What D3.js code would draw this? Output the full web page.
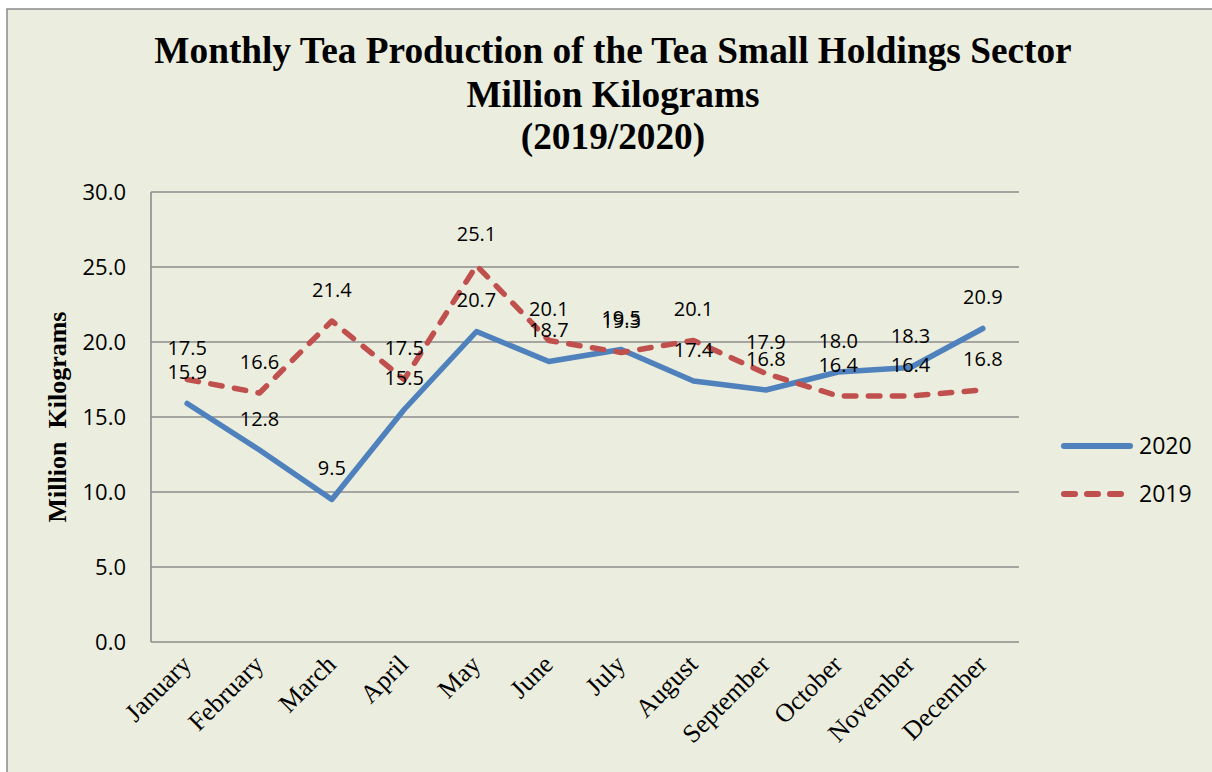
<!DOCTYPE html>
<html>
<head>
<meta charset="utf-8">
<script src="https://cdn.jsdelivr.net/npm/d3@7"></script>
<style>
  html, body { margin: 0; padding: 0; background: #ffffff; }
  svg { display: block; }
</style>
</head>
<body>
<svg id="chart" width="1212" height="772"></svg>
<script>
// ---- data ----
const months = ["January","February","March","April","May","June","July","August","September","October","November","December"];
const values2020 = [15.9, 12.8, 9.5, 15.5, 20.7, 18.7, 19.5, 17.4, 16.8, 18.0, 18.3, 20.9];
const values2019 = [17.5, 16.6, 21.4, 17.5, 25.1, 20.1, 19.3, 20.1, 17.9, 16.4, 16.4, 16.8];
const seriesNames = ["2020", "2019"];
const yTicks = [0, 5, 10, 15, 20, 25, 30];
const titleLines = ["Monthly Tea Production of the Tea Small Holdings Sector", "Million Kilograms", "(2019/2020)"];
const yAxisTitle = "Million\u00a0\u00a0Kilograms";

// ---- layout ----
const svg = d3.select("#chart");
const W = 1212, H = 772;
const plot = { left: 151, right: 1019, top: 192, bottom: 642 };
const colors = { "2020": "#4F81BD", "2019": "#C0504D" };
const grid = "#8c8c8c";

svg.append("rect").attr("x", 0).attr("y", 0).attr("width", W).attr("height", H).attr("fill", "#ffffff");
svg.append("rect").attr("x", 7).attr("y", 9).attr("width", W + 20).attr("height", H + 20)
  .attr("fill", "#EBEEDE").attr("stroke", "#8a8a8a").attr("stroke-width", 1.5);

// title
const title = svg.append("text").attr("text-anchor", "middle")
  .attr("font-family", "'Liberation Serif', 'Times New Roman', serif")
  .attr("font-weight", "bold").attr("font-size", 37.3).attr("fill", "#000");
const titleY = [63, 107, 149];
titleLines.forEach((t, i) => {
  title.append("tspan").attr("x", 613).attr("y", titleY[i]).text(t);
});

// scales
const x = d3.scalePoint().domain(months).range([plot.left, plot.right]).padding(0.5);
const y = d3.scaleLinear().domain([0, 30]).range([plot.bottom, plot.top]);

// gridlines
svg.append("g").selectAll("line").data(yTicks).join("line")
  .attr("x1", plot.left).attr("x2", plot.right)
  .attr("y1", d => y(d)).attr("y2", d => y(d))
  .attr("stroke", grid).attr("stroke-width", 1.6);
// left axis line
svg.append("line").attr("x1", plot.left).attr("x2", plot.left)
  .attr("y1", plot.top).attr("y2", plot.bottom)
  .attr("stroke", grid).attr("stroke-width", 1.6);

// y axis labels
const yAxis = svg.append("g").attr("transform", `translate(${plot.left - 25},0)`)
  .call(d3.axisLeft(y).tickValues(yTicks).tickFormat(d3.format(".1f")).tickSize(0).tickPadding(0));
yAxis.select(".domain").remove();
yAxis.selectAll("text").attr("font-family", "'Open Sans', sans-serif").attr("font-size", 22)
  .attr("fill", "#000").attr("dy", "0.36em");

// x axis labels
const xAxis = svg.append("g").attr("transform", `translate(0,${plot.bottom})`)
  .call(d3.axisBottom(x).tickSize(0).tickPadding(0));
xAxis.select(".domain").remove();
xAxis.selectAll("text")
  .attr("font-family", "'Liberation Serif', 'Times New Roman', serif")
  .attr("font-size", 26).attr("fill", "#000")
  .attr("text-anchor", "end")
  .attr("y", 0).attr("dy", 0)
  .attr("transform", "translate(5,24) rotate(-45)");

// y axis title
svg.append("text")
  .attr("transform", "translate(66,417) rotate(-90)")
  .attr("text-anchor", "middle")
  .attr("font-family", "'Liberation Serif', 'Times New Roman', serif")
  .attr("font-weight", "bold").attr("font-size", 26).attr("fill", "#000")
  .text(yAxisTitle);

// lines
const line = d3.line().x((d, i) => x(months[i])).y(d => y(d));
svg.append("path").datum(values2020).attr("d", line)
  .attr("fill", "none").attr("stroke", colors["2020"]).attr("stroke-width", 5.5)
  .attr("stroke-linejoin", "round").attr("stroke-linecap", "round");
svg.append("path").datum(values2019).attr("d", line)
  .attr("fill", "none").attr("stroke", colors["2019"]).attr("stroke-width", 5.5)
  .attr("stroke-dasharray", "11.5,12.5").attr("stroke-linejoin", "round").attr("stroke-linecap", "round");

// data labels
const labelG = svg.append("g").attr("font-family", "'Open Sans', sans-serif").attr("font-size", 20)
  .attr("fill", "#000").attr("text-anchor", "middle");
[values2020, values2019].forEach(vals => {
  labelG.selectAll(null).data(vals).join("text")
    .attr("x", (d, i) => x(months[i]))
    .attr("y", d => y(d) - 24.5)
    .text(d => d3.format(".1f")(d));
});

// legend
const legend = svg.append("g");
const legY = [446, 494];
seriesNames.forEach((s, i) => {
  const ln = legend.append("line").attr("x1", 1064).attr("x2", 1130)
    .attr("y1", legY[i]).attr("y2", legY[i])
    .attr("stroke", colors[s]).attr("stroke-width", 6).attr("stroke-linecap", "round");
  if (s === "2019") ln.attr("stroke-dasharray", "11,12");
  legend.append("text").attr("x", 1139).attr("y", legY[i]).attr("dy", "0.36em")
    .attr("font-family", "'Open Sans', sans-serif").attr("font-size", 23).attr("fill", "#000")
    .text(s);
});
</script>
</body>
</html>
